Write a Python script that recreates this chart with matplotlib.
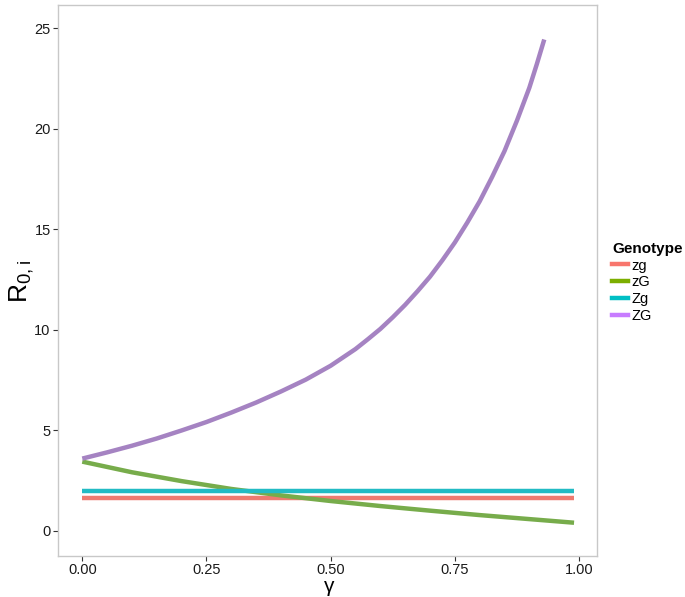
import matplotlib
matplotlib.use("Agg")
import matplotlib.pyplot as plt
from matplotlib.lines import Line2D

plt.rcParams["font.family"] = ["Liberation Sans", "DejaVu Sans"]
plt.rcParams["mathtext.default"] = "regular"

# ============================
# Dados
# ============================
gamma = [0.00, 0.10, 0.20, 0.30, 0.40, 0.50, 0.60, 0.70, 0.80, 0.90, 0.99]
r_zg = [1.66] * len(gamma)
r_Zg = [2.00] * len(gamma)
r_zG = [3.45, 2.92, 2.48, 2.09, 1.77, 1.49, 1.24, 1.01, 0.79, 0.59, 0.41]

gamma_ZG = [0.00, 0.05, 0.10, 0.15, 0.20, 0.25, 0.30, 0.35, 0.40, 0.45, 0.50,
            0.55, 0.575, 0.60, 0.625, 0.65, 0.675, 0.70, 0.725, 0.75, 0.775,
            0.80, 0.825, 0.85, 0.875, 0.90, 0.915, 0.93]
r_ZG = [3.60, 3.91, 4.24, 4.60, 5.00, 5.42, 5.89, 6.39, 6.94, 7.53, 8.22,
        9.05, 9.54, 10.05, 10.63, 11.25, 11.93, 12.65, 13.47, 14.35, 15.34,
        16.40, 17.61, 18.90, 20.41, 22.05, 23.22, 24.45]

genotypes = ["zg", "zG", "Zg", "ZG"]
line_colors = ["#EE7A70", "#77AC4B", "#22BBC4", "#A583C2"]
key_colors = ["#F8766D", "#7CAE00", "#00BFC4", "#C77CFF"]

# ============================
# Figura
# ============================
fig = plt.figure(figsize=(6.85, 5.97), dpi=100)
ax = fig.add_axes([0.0851, 0.0692, 0.786, 0.9229])

estilo = dict(lw=3.2, solid_capstyle="butt", solid_joinstyle="round")
ax.plot(gamma, r_zg, color=line_colors[0], **estilo)
ax.plot(gamma, r_zG, color=line_colors[1], **estilo)
ax.plot(gamma, r_Zg, color=line_colors[2], **estilo)
ax.plot(gamma_ZG, r_ZG, color=line_colors[3], **estilo)

ax.set_xlim(-0.0483, 1.0356)
ax.set_ylim(-1.23, 26.18)
ax.set_xticks([0, 0.25, 0.5, 0.75, 1.0])
ax.set_xticklabels(["0.00", "0.25", "0.50", "0.75", "1.00"])
ax.set_yticks([0, 5, 10, 15, 20, 25])

for s in ax.spines.values():
    s.set_color("#C8C8C8")
    s.set_linewidth(1.0)
ax.tick_params(axis="both", length=3.5, width=0.8, color="#333333",
               labelsize=10.5, labelcolor="#1a1a1a", pad=2)
ax.tick_params(axis="x", pad=1.5)

ax.set_xlabel("γ", fontsize=15, va="bottom")
ax.xaxis.set_label_coords(0.503, -0.0738)
ax.set_ylabel(r"$R_{0,i}$", fontsize=19, va="center")
ax.yaxis.set_label_coords(-0.068, 0.497)

handles = [Line2D([0], [0], color=c, lw=3.2) for c in key_colors]
leg = fig.legend(handles, genotypes, loc="upper left",
                 bbox_to_anchor=(0.885, 0.605), frameon=False,
                 title="Genotype", fontsize=10.5, handlelength=1.1,
                 handletextpad=0.25, labelspacing=0.2, borderaxespad=0,
                 alignment="left")
leg.get_title().set_fontweight("bold")
leg.get_title().set_fontsize(11)

plt.savefig("out.png", dpi=100)
plt.close()
